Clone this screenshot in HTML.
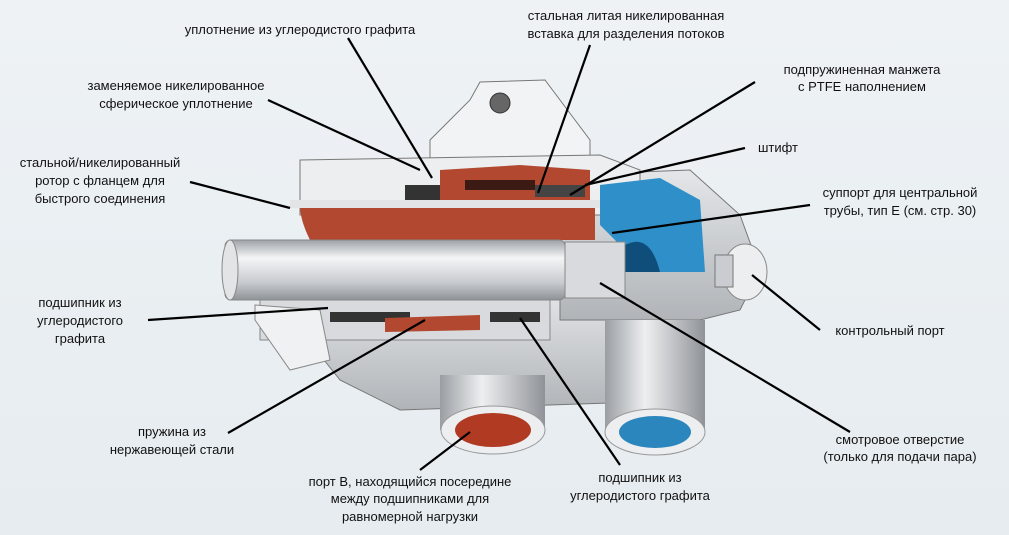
<!DOCTYPE html>
<html><head><meta charset="utf-8"><style>
html,body{margin:0;padding:0}
body{width:1009px;height:535px;overflow:hidden;background:linear-gradient(180deg,#eef2f5,#e6ecf0);font-family:"Liberation Sans",sans-serif}
svg{position:absolute;left:0;top:0}
.t{font-size:13px;fill:#111}
</style></head><body>
<svg width="1009" height="535" viewBox="0 0 1009 535">
<defs>
<linearGradient id="pipe" x1="0" y1="0" x2="0" y2="1"><stop offset="0" stop-color="#9ea3a8"/><stop offset=".3" stop-color="#f4f5f6"/><stop offset=".7" stop-color="#c9ccd0"/><stop offset="1" stop-color="#8e9398"/></linearGradient>
<linearGradient id="body" x1="0" y1="0" x2="0" y2="1"><stop offset="0" stop-color="#e4e6e8"/><stop offset="1" stop-color="#b0b4b8"/></linearGradient>
<linearGradient id="cyl" x1="0" y1="0" x2="1" y2="0"><stop offset="0" stop-color="#9a9ea3"/><stop offset=".4" stop-color="#eeeff0"/><stop offset="1" stop-color="#8f9398"/></linearGradient>
</defs>
<path d="M430 140 L470 100 L480 82 L545 80 L575 120 L590 140 L590 165 L430 165Z" fill="#f2f3f4" stroke="#777"/>
<circle cx="500" cy="103" r="10" fill="#666" stroke="#333"/>
<path d="M300 290 L650 290 L690 330 L700 400 L400 410 L340 380 L300 330Z" fill="url(#body)" stroke="#777"/>
<path d="M560 175 L690 170 L740 215 L760 270 L740 310 L700 320 L560 320Z" fill="url(#body)" stroke="#777"/>
<path d="M300 160 L600 155 L640 170 L640 215 L300 215Z" fill="#eceef0" stroke="#777"/>
<path d="M440 170 L520 165 L590 170 L590 205 L440 205Z" fill="#b24830"/>
<rect x="465" y="180" width="70" height="10" fill="#3a1a12"/>
<path d="M300 205 L595 205 L595 240 L310 240 Q300 220 300 205Z" fill="#b24830"/>
<rect x="290" y="200" width="340" height="8" fill="#e2e4e6"/>
<rect x="405" y="185" width="35" height="15" fill="#333"/>
<rect x="535" y="185" width="50" height="12" fill="#444"/>
<path d="M600 185 L660 178 L700 200 L705 272 L640 272 L615 240 L600 225Z" fill="#2f8fc8"/>
<path d="M625 245 Q650 232 660 272 L620 272Z" fill="#0f4e7a"/>
<rect x="225" y="240" width="340" height="60" rx="6" fill="url(#pipe)" stroke="#888"/>
<ellipse cx="230" cy="270" rx="8" ry="30" fill="#e2e4e6" stroke="#888"/>
<rect x="565" y="242" width="60" height="56" fill="#d8dadd" stroke="#888"/>
<rect x="260" y="300" width="290" height="40" fill="#d8dadd" stroke="#888"/>
<rect x="330" y="312" width="80" height="10" fill="#333"/>
<path d="M385 318 L480 315 L480 330 L385 332Z" fill="#b24830"/>
<rect x="490" y="312" width="50" height="10" fill="#333"/>
<path d="M255 305 L320 310 L330 360 L290 370 L255 320Z" fill="#f0f1f2" stroke="#888"/>
<ellipse cx="745" cy="272" rx="22" ry="28" fill="#eceef0" stroke="#888"/>
<rect x="715" y="255" width="18" height="32" fill="#c9ccd0" stroke="#777"/>
<rect x="440" y="375" width="105" height="55" fill="url(#cyl)"/>
<ellipse cx="493" cy="430" rx="52" ry="24" fill="#eceef0" stroke="#999"/>
<ellipse cx="493" cy="430" rx="38" ry="17" fill="#b03a22"/>
<rect x="605" y="320" width="100" height="112" fill="url(#cyl)"/>
<ellipse cx="655" cy="432" rx="50" ry="23" fill="#eceef0" stroke="#999"/>
<ellipse cx="655" cy="432" rx="36" ry="16" fill="#2a86bd"/>
<g stroke="#000" stroke-width="2.2" fill="none">
<line x1="348" y1="38" x2="432" y2="178"/>
<line x1="590" y1="45" x2="538" y2="193"/>
<line x1="268" y1="100" x2="420" y2="170"/>
<line x1="755" y1="82" x2="570" y2="195"/>
<line x1="190" y1="182" x2="290" y2="208"/>
<line x1="745" y1="148" x2="585" y2="185"/>
<line x1="810" y1="205" x2="612" y2="233"/>
<line x1="148" y1="320" x2="328" y2="308"/>
<line x1="820" y1="330" x2="752" y2="275"/>
<line x1="228" y1="433" x2="425" y2="320"/>
<line x1="850" y1="432" x2="600" y2="283"/>
<line x1="420" y1="470" x2="470" y2="432"/>
<line x1="620" y1="465" x2="520" y2="318"/>
</g>
<g class="t" text-anchor="middle">
<text x="300" y="34">уплотнение из углеродистого графита</text>
<text x="626" y="20">стальная литая никелированная</text>
<text x="626" y="38">вставка для разделения потоков</text>
<text x="176" y="90">заменяемое никелированное</text>
<text x="176" y="108">сферическое уплотнение</text>
<text x="862" y="74">подпружиненная манжета</text>
<text x="862" y="91">с PTFE наполнением</text>
<text x="100" y="167">стальной/никелированный</text>
<text x="100" y="185">ротор с фланцем для</text>
<text x="100" y="203">быстрого соединения</text>
<text x="778" y="152">штифт</text>
<text x="900" y="197">суппорт для центральной</text>
<text x="900" y="215">трубы, тип Е (см. стр. 30)</text>
<text x="80" y="307">подшипник из</text>
<text x="80" y="325">углеродистого</text>
<text x="80" y="343">графита</text>
<text x="890" y="335">контрольный порт</text>
<text x="172" y="436">пружина из</text>
<text x="172" y="454">нержавеющей стали</text>
<text x="900" y="444">смотровое отверстие</text>
<text x="900" y="461">(только для подачи пара)</text>
<text x="410" y="486">порт В, находящийся посередине</text>
<text x="410" y="503">между подшипниками для</text>
<text x="410" y="521">равномерной нагрузки</text>
<text x="640" y="482">подшипник из</text>
<text x="640" y="500">углеродистого графита</text>
</g>
</svg>
</body></html>
